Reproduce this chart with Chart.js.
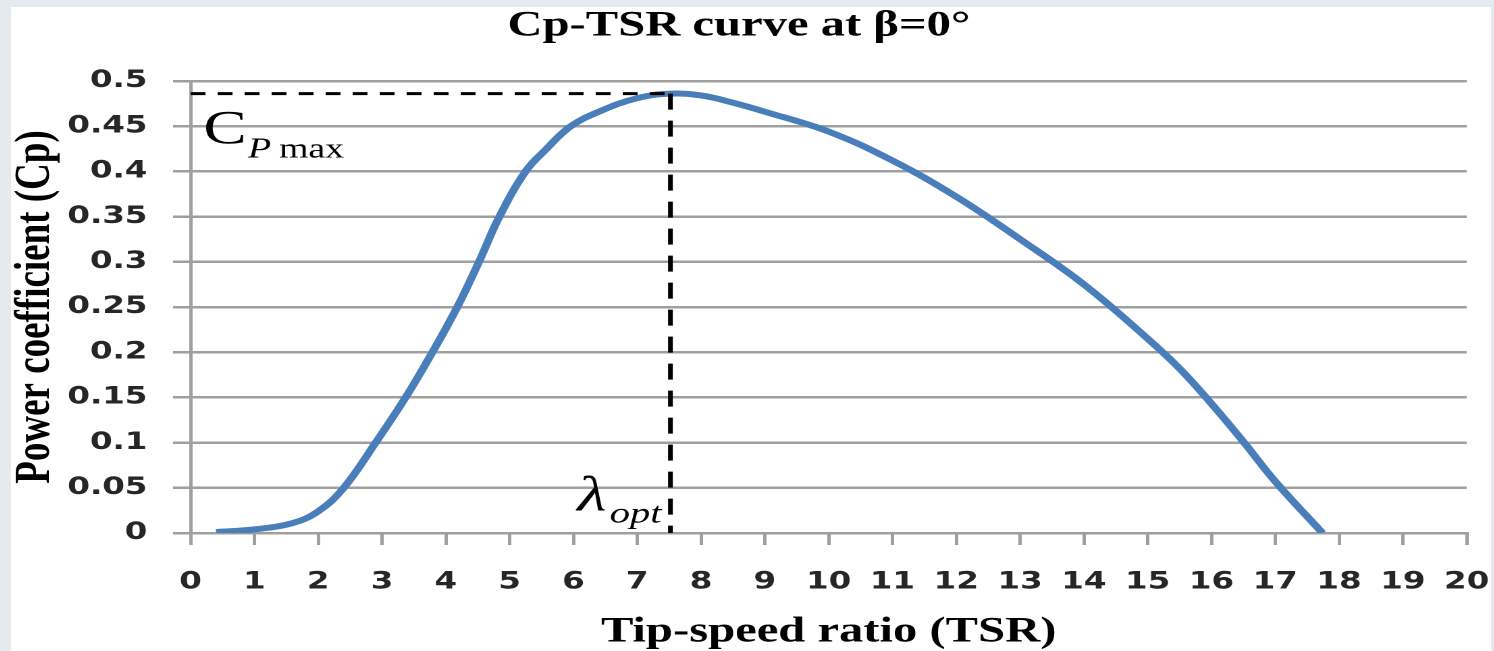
<!DOCTYPE html>
<html>
<head>
<meta charset="utf-8">
<script src="https://cdn.jsdelivr.net/npm/chart.js@4.4.1/dist/chart.umd.min.js"></script>
<style>
  html, body { margin: 0; padding: 0; background: #e5eaee; }
  #wrap { position: absolute; left: 11px; top: 7px; width: 1480px; height: 644px; background: #fff; }
</style>
</head>
<body>
<div id="wrap">
  <canvas id="cp_chart" width="1096" height="644" style="width:1480px;height:644px;"></canvas>
</div>
<script>
// Cp - TSR curve
var tsr = [0.4, 1.0, 1.6, 2.0, 2.4, 2.9, 3.37, 3.79, 4.18, 4.52, 4.84, 5.25, 5.55, 5.96, 6.43, 7.0, 7.52, 8.0, 8.5, 9.0, 10.0, 11.0, 12.0, 13.0, 14.0, 15.0, 15.5, 16.0, 16.5, 17.0, 17.74];
var cp = [0.001, 0.004, 0.011, 0.024, 0.05, 0.10, 0.15, 0.20, 0.25, 0.30, 0.35, 0.40, 0.423, 0.45, 0.467, 0.481, 0.486, 0.484, 0.476, 0.466, 0.444, 0.412, 0.372, 0.325, 0.275, 0.215, 0.182, 0.143, 0.101, 0.057, 0.0];

var tsr_opt = 7.52;
var cp_max = 0.486;

var x_ticks = ["0", "1", "2", "3", "4", "5", "6", "7", "8", "9", "10", "11", "12", "13", "14", "15", "16", "17", "18", "19", "20"];
var y_ticks = ["0", "0.05", "0.1", "0.15", "0.2", "0.25", "0.3", "0.35", "0.4", "0.45", "0.5"];

// where the two math labels sit (data units)
var cpmax_anchor = [0.2, 0.431];
var lambda_anchor = [6.06, 0.025];

var grid_gray = "#9f9f9f";
var serif = "'Liberation Serif', 'Times New Roman', serif";

var curve_points = tsr.map(function (t, i) {
  return { x: t, y: cp[i] };
});

// C_Pmax and lambda_opt written on the plot
var math_labels = {
  id: "math_labels",
  afterDatasetsDraw: function (chart) {
    var ctx = chart.ctx;
    var xs = chart.scales.x;
    var ys = chart.scales.y;
    ctx.save();
    ctx.fillStyle = "#000";
    ctx.textBaseline = "alphabetic";
    ctx.textAlign = "left";

    var x0 = xs.getPixelForValue(cpmax_anchor[0]);
    var y0 = ys.getPixelForValue(cpmax_anchor[1]);
    ctx.font = "48px " + serif;
    ctx.fillText("C", x0, y0);
    ctx.font = "italic 28px " + serif;
    ctx.fillText("P", x0 + 33, y0 + 14);
    ctx.font = "28px " + serif;
    ctx.fillText("max", x0 + 56, y0 + 14);

    var x1 = xs.getPixelForValue(lambda_anchor[0]);
    var y1 = ys.getPixelForValue(lambda_anchor[1]);
    ctx.font = "italic 50px " + serif;
    ctx.fillText("λ", x1, y1);
    ctx.font = "italic 30px " + serif;
    ctx.fillText("opt", x1 + 24, y1 + 12);
    ctx.restore();
  }
};

var ctx = document.getElementById("cp_chart").getContext("2d");
var chart = new Chart(ctx, {
  type: "scatter",
  data: {
    datasets: [{
      data: [{ x: 0, y: cp_max }, { x: tsr_opt, y: cp_max }],
      showLine: true,
      borderColor: "#000",
      borderWidth: 3,
      borderDash: [11, 9],
      pointRadius: 0,
      order: 0
    }, {
      data: [{ x: tsr_opt, y: cp_max }, { x: tsr_opt, y: 0 }],
      showLine: true,
      borderColor: "#000",
      borderWidth: 3.5,
      borderDash: [16, 11],
      pointRadius: 0,
      order: 0
    }, {
      data: curve_points,
      showLine: true,
      borderColor: "#4a7ebb",
      borderWidth: 6,
      pointRadius: 0,
      tension: 0.4,
      order: 1
    }]
  },
  options: {
    responsive: false,
    devicePixelRatio: 2,
    animation: false,
    layout: {
      padding: { left: 0, right: 18, top: 0, bottom: 0 }
    },
    plugins: {
      legend: { display: false },
      tooltip: { enabled: false },
      title: {
        display: true,
        text: "Cp-TSR curve at β=0°",
        color: "#000",
        font: { family: serif, size: 36, weight: "bold", lineHeight: 1 },
        padding: { top: 1, bottom: 37 }
      }
    },
    scales: {
      x: {
        type: "linear",
        min: 0,
        max: 20,
        border: { color: grid_gray, width: 2.5 },
        grid: {
          drawOnChartArea: false,
          drawTicks: true,
          tickLength: 12,
          color: grid_gray,
          lineWidth: 2.5
        },
        ticks: {
          stepSize: 1,
          autoSkip: false,
          maxRotation: 0,
          padding: 23,
          color: "#262626",
          font: { family: "'DejaVu Sans'", size: 24, weight: "bold" },
          callback: function (v, i) { return x_ticks[i]; }
        },
        title: {
          display: true,
          text: "Tip-speed ratio (TSR)",
          color: "#000",
          font: { family: serif, size: 36, weight: "bold", lineHeight: 1 },
          padding: { top: 0, bottom: 1 }
        },
        afterFit: function (s) {
          s.height = 118;
          s.paddingLeft = 0;
          s.paddingRight = 0;
        }
      },
      y: {
        type: "linear",
        min: 0,
        max: 0.5,
        border: { color: grid_gray, width: 2.5 },
        grid: {
          color: grid_gray,
          lineWidth: 2.5,
          drawTicks: true,
          tickLength: 13
        },
        ticks: {
          stepSize: 0.05,
          autoSkip: false,
          padding: 19,
          color: "#262626",
          font: { family: "'DejaVu Sans'", size: 24, weight: "bold" },
          callback: function (v, i) { return y_ticks[i]; }
        },
        title: {
          display: true,
          text: "Power coefficient (Cp)",
          color: "#000",
          font: { family: serif, size: 37, weight: "bold", lineHeight: 1 },
          padding: 0
        },
        afterFit: function (s) { s.width = 133; }
      }
    }
  },
  plugins: [math_labels]
});
</script>
</body>
</html>
